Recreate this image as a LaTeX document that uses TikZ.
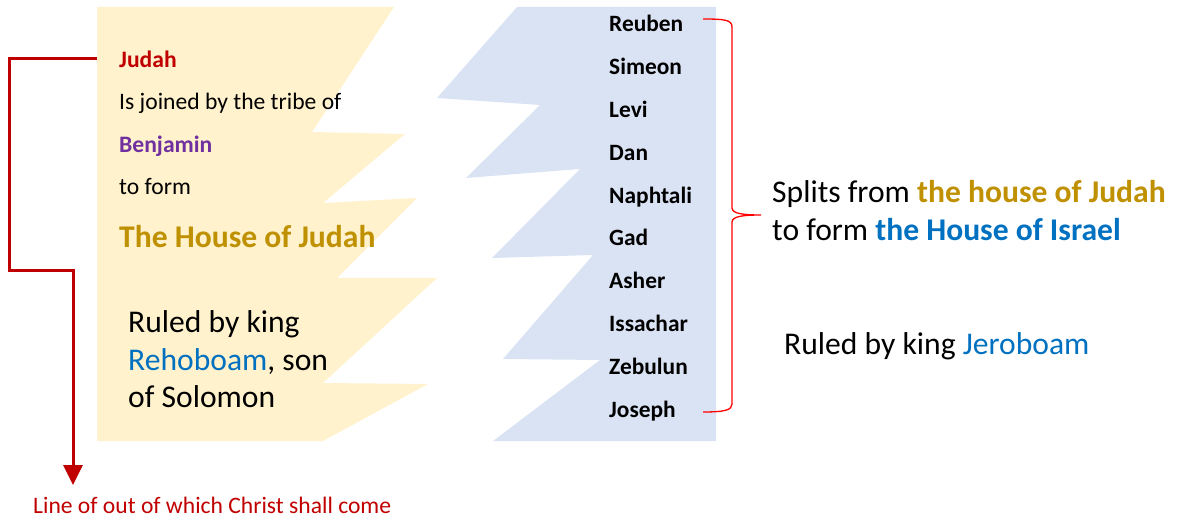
\documentclass[tikz,border=0pt]{standalone}
\usepackage{fontspec}
\setmainfont{Carlito}
\usetikzlibrary{arrows.meta}
\definecolor{jred}{HTML}{C00000}
\definecolor{jpurple}{HTML}{7030A0}
\definecolor{jgold}{HTML}{BF9000}
\definecolor{jblue}{HTML}{0070C0}
\definecolor{yfill}{HTML}{FFF2CC}
\definecolor{bfill}{HTML}{DAE3F3}
\definecolor{brred}{HTML}{FF0000}
\begin{document}
\begin{tikzpicture}[x=1pt,y=-1pt,
  txt/.style={anchor=base west,inner sep=0pt},
  fa/.style={txt,font=\fontsize{23.6}{28}\selectfont},
  fb/.style={txt,font=\fontsize{31.6}{38}\selectfont},
  tribe/.style={txt,font=\fontsize{23.4}{28}\selectfont\bfseries},
  redline/.style={jred,line width=3pt},
  bracestyle/.style={brred,line width=1.3pt}]
\useasboundingbox (0,0) rectangle (1178,518);
% shapes
\fill[yfill] (97,7) -- (394,7) -- (312,132) -- (405,134) -- (323,203) -- (417,198) -- (337,278) -- (437,278) -- (323,383) -- (428,384) -- (323,441) -- (97,441) -- cycle;
\fill[bfill] (517,7) -- (716,7) -- (716,441) -- (493,441) -- (600,360) -- (503,359) -- (593,255) -- (492,258) -- (580,169) -- (466,178) -- (540,105) -- (437,98) -- cycle;
% left texts
\node[fa,font=\fontsize{23.6}{28}\selectfont\bfseries,text=jred] (judah) at (119,68) {Judah};
\node[fa] (joined) at (119,110) {Is joined by the tribe of};
\node[fa,font=\fontsize{23.6}{28}\selectfont\bfseries,text=jpurple] (benj) at (119,153) {Benjamin};
\node[fa] (toform) at (119,195) {to form};
\node[fb,font=\fontsize{31.6}{38}\selectfont\bfseries,text=jgold] (hoj) at (119,248) {The House of Judah};
\node[fb] (rul1) at (128,333) {Ruled by king};
\node[fb] (rul2) at (128,371) {\textcolor{jblue}{Rehoboam}, son};
\node[fb] (rul3) at (128,408) {of Solomon};
\node[fa,text=jred] (christ) at (33,513) {Line of out of which Christ shall come};
% tribes
\foreach \n [count=\i from 0] in {Reuben,Simeon,Levi,Dan,Naphtali,Gad,Asher,Issachar,Zebulun,Joseph}
  \node[tribe] (t\i) at (609,{32+42.78*\i}) {\n};
% right texts
\node[fb] (splits) at (772,203) {Splits from \textbf{\textcolor{jgold}{the house of Judah}}};
\node[fb] (formisr) at (772,241) {to form \textbf{\textcolor{jblue}{the House of Israel}}};
\node[fb] (jero) at (784,355) {Ruled by king \textcolor{jblue}{Jeroboam}};
% red line of Judah
\coordinate (jstart) at (97,59);
\coordinate (jend) at (73,485);
\draw[redline,-{Triangle[width=19pt,length=20pt]}] (jstart) -- (9,59) -- (9,271) -- (73,271) -- (jend);
% brace
\coordinate (btop) at (703,19);
\coordinate (bbot) at (703,412);
\draw[bracestyle] (btop) .. controls (725,19) and (732,20) .. (732,27) -- (732,208)
  .. controls (732,214) and (745,215) .. (761,215)
  .. controls (745,215) and (732,216) .. (732,222) -- (732,404)
  .. controls (732,410) and (725,412) .. (bbot);
\end{tikzpicture}
\end{document}
